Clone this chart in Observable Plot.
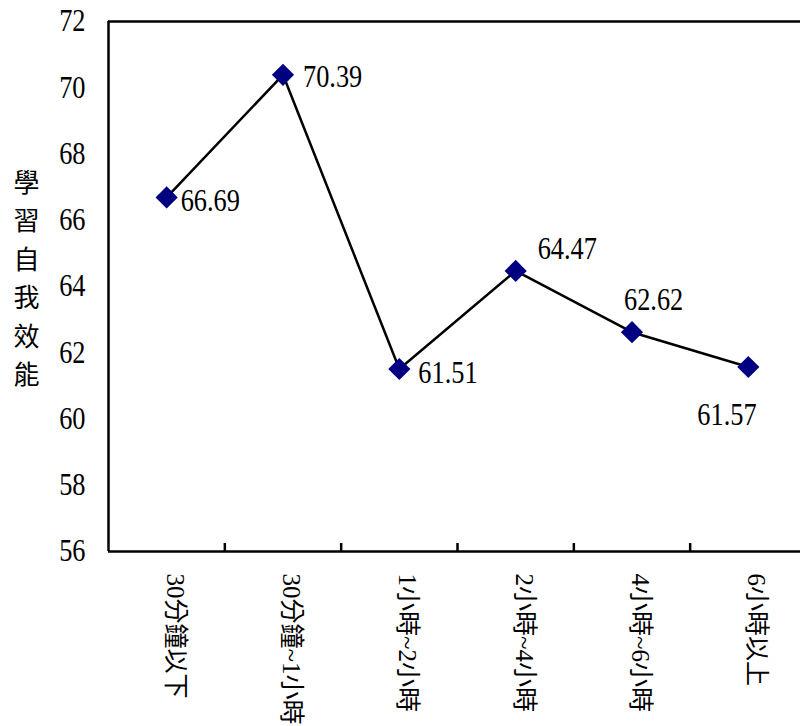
<!DOCTYPE html>
<html>
<head>
<meta charset="utf-8">
<script src="https://cdn.jsdelivr.net/npm/d3@7"></script>
<script src="https://cdn.jsdelivr.net/npm/@observablehq/plot@0.6"></script>
<style>
  body { margin: 0; background: #fff; }
  #chart svg { display: block; }
</style>
</head>
<body>
<div id="chart"></div>
<script>
const categories = ["30分鐘以下", "30分鐘~1小時", "1小時~2小時", "2小時~4小時", "4小時~6小時", "6小時以上"];
const values = [66.69, 70.39, 61.51, 64.47, 62.62, 61.57];
const valueLabels = ["66.69", "70.39", "61.51", "64.47", "62.62", "61.57"];
const yTicks = [56, 58, 60, 62, 64, 66, 68, 70, 72];
const yTitle = "學習自我效能";

// layout for the value labels (offset from each marker, in px)
const labelOffsets = [
  {dx: 14, dy: 4},
  {dx: 20, dy: 2},
  {dx: 19, dy: 4},
  {dx: 22, dy: -22},
  {dx: -8, dy: -32},
  {dx: -51, dy: 48}
];

const data = categories.map((c, i) => ({cat: c, pos: i + 0.5, value: values[i], label: valueLabels[i]}));
const serifFont = "'Liberation Serif', serif";
const cjkFont = "'Liberation Serif', 'Noto Sans CJK TC', serif";
const numSize = 31;

const chart = Plot.plot({
  width: 800,
  height: 726,
  marginLeft: 108,
  marginRight: 0,
  marginTop: 21,
  marginBottom: 175,
  x: {domain: [0, 6], range: [108, 806]},
  y: {domain: [56, 72], axis: null},
  marks: [
    Plot.text(yTicks, {y: (d) => d, text: (d) => String(d), frameAnchor: "left", dx: -23, textAnchor: "end", fontSize: numSize, fontFamily: serifFont, fill: "#000"}),
    Plot.axisX({ticks: [1, 2, 3, 4, 5], tickSize: -8, tickFormat: () => "", label: null, strokeWidth: 2.5, stroke: "#000"}),
    Plot.ruleY([56, 72], {stroke: "#000", strokeWidth: 2.5}),
    Plot.ruleX([0], {stroke: "#000", strokeWidth: 2.5}),
    Plot.text(data, {x: "pos", text: "cat", frameAnchor: "bottom", dy: 22, rotate: 90, textAnchor: "start", fontSize: 25, fontFamily: cjkFont, fill: "#000"}),
    Plot.text([yTitle.split("").join("\n")], {frameAnchor: "left", dx: -82, dy: -11, lineHeight: 1.48, fontSize: 26, fontFamily: cjkFont, fill: "#000", textAnchor: "middle"}),
    Plot.line(data, {x: "pos", y: "value", stroke: "#000", strokeWidth: 2.5}),
    Plot.dot(data, {x: "pos", y: "value", symbol: "diamond2", r: 10, fill: "#000080", stroke: "none"}),
    ...data.map((d, i) => Plot.text([d], {x: "pos", y: "value", text: "label", dx: labelOffsets[i].dx, dy: labelOffsets[i].dy, textAnchor: "start", fontSize: numSize, fontFamily: serifFont, fill: "#000"}))
  ]
});
// condense the numeric glyphs horizontally (the original uses a narrow serif)
chart.querySelectorAll(`g[font-size="${numSize}"] text`).forEach((t) => {
  const tr = t.getAttribute("transform") || "";
  t.setAttribute("transform", tr + " scale(0.85,1)");
});
document.getElementById("chart").appendChild(chart);
</script>
</body>
</html>
